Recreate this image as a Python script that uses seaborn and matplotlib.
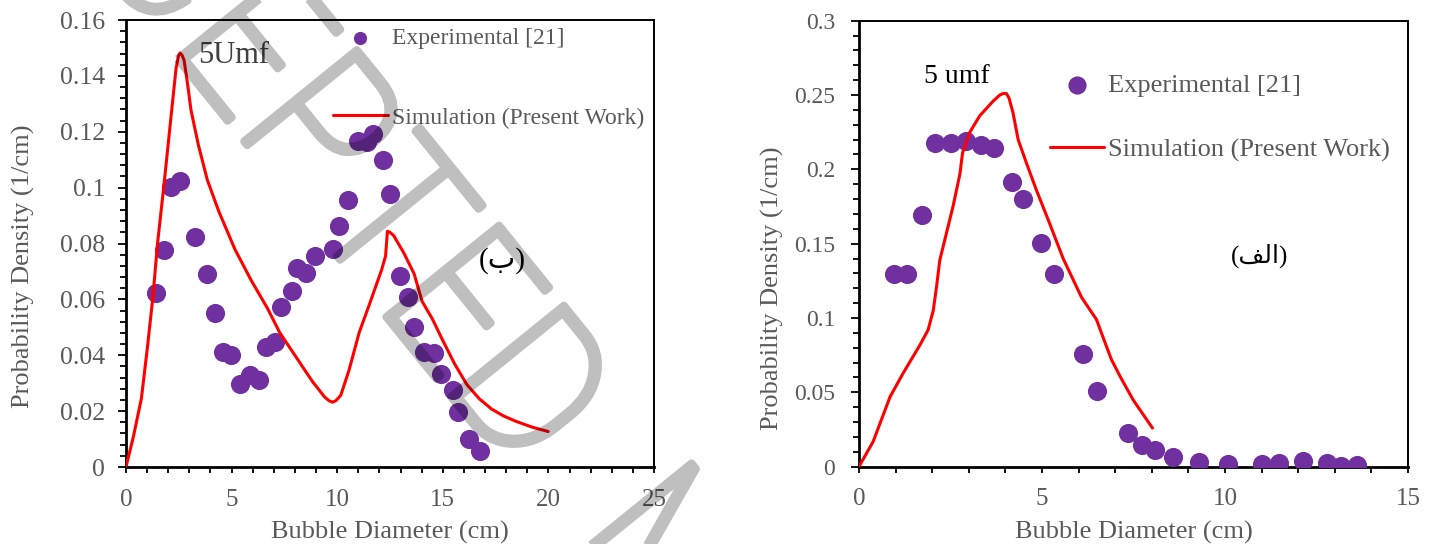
import matplotlib
matplotlib.use("Agg")
import matplotlib.pyplot as plt
import seaborn as sns
import pandas as pd
from matplotlib.ticker import MultipleLocator, FuncFormatter
from matplotlib.textpath import TextPath
from matplotlib.patches import PathPatch
from matplotlib.path import Path
from matplotlib.font_manager import FontProperties
from matplotlib.transforms import Affine2D

# ---- data ----
# left panel (ب)
left_exp_x = [1.41, 1.79, 2.12, 2.56, 3.27, 3.85, 4.20, 4.58, 4.97, 5.39, 5.85, 6.28, 6.61,
              7.05, 7.32, 7.86, 8.11, 8.53, 8.97, 9.82, 10.09, 10.52, 10.98, 11.42, 11.71,
              12.17, 12.52, 12.96, 13.33, 13.64, 14.12, 14.56, 14.91, 15.47, 15.72, 16.26, 16.76]
left_exp_y = [0.0623, 0.0777, 0.1003, 0.1022, 0.0824, 0.0690, 0.0553, 0.0413, 0.0400, 0.0297,
              0.0329, 0.0313, 0.0431, 0.0446, 0.0572, 0.0630, 0.0714, 0.0696, 0.0757, 0.0782,
              0.0861, 0.0954, 0.1167, 0.1165, 0.1192, 0.1100, 0.0976, 0.0684, 0.0610, 0.0501,
              0.0413, 0.0409, 0.0332, 0.0276, 0.0198, 0.0102, 0.0056]
left_sim_x = [0, 0.35, 0.73, 1.02, 1.27, 1.50, 1.79, 2.08, 2.37, 2.48, 2.56, 2.65, 2.75, 2.90,
              3.08, 3.43, 3.85, 4.39, 5.16, 5.93, 6.70, 7.28, 8.05, 8.82, 9.40, 9.62, 9.78,
              9.95, 10.17, 10.55, 11.04, 11.52, 12.10, 12.29, 12.38, 12.50, 12.67, 13.15,
              13.64, 14.02, 14.50, 14.98, 15.56, 16.14, 16.72, 17.30, 17.87, 18.45, 19.22, 19.99]
left_sim_y = [0, 0.0108, 0.0245, 0.0431, 0.0605, 0.0804, 0.1003, 0.1215, 0.1426, 0.1470,
              0.1482, 0.1475, 0.1457, 0.1380, 0.1277, 0.1152, 0.1028, 0.0916, 0.0779, 0.0668,
              0.0568, 0.0481, 0.0394, 0.0307, 0.0251, 0.0237, 0.0232, 0.0238, 0.0257, 0.0344,
              0.0481, 0.0581, 0.0705, 0.0755, 0.0844, 0.0840, 0.0829, 0.0767, 0.0692, 0.0593,
              0.0531, 0.0456, 0.0369, 0.0295, 0.0245, 0.0208, 0.0183, 0.0164, 0.0143, 0.0127]

# right panel (الف)
right_exp_x = [0.96, 1.30, 1.73, 2.09, 2.51, 2.92, 3.34, 3.70, 4.18, 4.49, 4.98, 5.34, 6.13,
               6.50, 7.34, 7.74, 8.10, 8.59, 9.29, 10.09, 11.00, 11.49, 12.13, 12.80, 13.17, 13.60]
right_exp_y = [0.1296, 0.1296, 0.169, 0.218, 0.2175, 0.2193, 0.2164, 0.2142, 0.1917, 0.1798,
               0.1502, 0.1296, 0.0758, 0.0511, 0.0225, 0.0144, 0.0112, 0.0063, 0.0032, 0.0018,
               0.0018, 0.0027, 0.0036, 0.0023, 0.0007, 0.0011]
right_sim_x = [0, 0.39, 0.85, 1.21, 1.67, 1.89, 2.03, 2.12, 2.21, 2.39, 2.57, 2.76, 2.83, 3.03,
               3.30, 3.67, 3.85, 3.94, 4.03, 4.10, 4.21, 4.35, 4.58, 4.85, 5.22, 5.58, 6.08,
               6.49, 6.67, 6.90, 7.13, 7.49, 8.02]
right_sim_y = [0, 0.017, 0.047, 0.063, 0.082, 0.092, 0.105, 0.121, 0.139, 0.157, 0.175, 0.197,
               0.211, 0.225, 0.236, 0.246, 0.250, 0.251, 0.251, 0.248, 0.238, 0.220, 0.204,
               0.186, 0.163, 0.140, 0.114, 0.099, 0.087, 0.072, 0.061, 0.045, 0.026]

EXP_LABEL = "Experimental [21]"
SIM_LABEL = "Simulation (Present Work)"
X_LABEL = "Bubble Diameter (cm)"
Y_LABEL = "Probability Density (1/cm)"

# ---- style ----
sns.set_theme(style="white")
plt.rcParams["font.family"] = ["Liberation Serif", "DejaVu Sans"]

GREY = "#595959"
PURPLE = "#7030A0"
RED = "#FF0000"


def draw_panel(ax, exp_x, exp_y, sim_x, sim_y):
    exp = pd.DataFrame({"d": exp_x, "p": exp_y})
    sim = pd.DataFrame({"d": sim_x, "p": sim_y})
    sns.scatterplot(data=exp, x="d", y="p", ax=ax, color=PURPLE, s=190,
                    linewidth=0, legend=False, zorder=3)
    sns.lineplot(data=sim, x="d", y="p", ax=ax, color=RED, linewidth=2.2,
                 estimator=None, sort=False, legend=False, zorder=4)
    ax.lines[0].set_solid_joinstyle("round")
    return [ax.collections[0], ax.lines[0]]


def style_axis(ax, xmax, ymax, ymajor, yminor, ytick_size, ytick_pad, ylabel_x, ylabel_y):
    ax.set_xlim(0, xmax)
    ax.set_ylim(0, ymax)
    ax.xaxis.set_major_locator(MultipleLocator(5))
    ax.xaxis.set_minor_locator(MultipleLocator(1))
    ax.yaxis.set_major_locator(MultipleLocator(ymajor))
    ax.yaxis.set_minor_locator(MultipleLocator(yminor))
    ax.yaxis.set_major_formatter(FuncFormatter(lambda v, _: f"{round(v, 4):g}"))
    ax.xaxis.set_major_formatter(FuncFormatter(lambda v, _: f"{round(v):d}"))

    ax.tick_params(which="both", direction="out", color="black", width=1.3,
                   bottom=True, left=True, top=False, right=False, labelcolor=GREY)
    ax.tick_params(axis="y", which="major", length=6, labelsize=ytick_size, pad=ytick_pad)
    ax.tick_params(axis="y", which="minor", length=4)
    ax.tick_params(axis="x", which="both", length=4.5)
    ax.tick_params(axis="x", which="major", labelsize=18, pad=11)

    for side, lw in [("left", 2.0), ("bottom", 2.0), ("top", 1.4), ("right", 1.4)]:
        ax.spines[side].set_color("black")
        ax.spines[side].set_linewidth(lw)

    ax.set_xlabel(X_LABEL, fontsize=19, color=GREY)
    ax.set_ylabel(Y_LABEL, fontsize=19, color=GREY)
    ax.xaxis.set_label_coords(0.5, -0.147)
    ax.xaxis.label.set_va("center")
    ax.yaxis.set_label_coords(ylabel_x, ylabel_y)
    ax.yaxis.label.set_va("center")
    ax.grid(False)


fig = plt.figure(figsize=(14.33, 5.44), dpi=100)
ax_l = fig.add_axes([0.0879, 0.1415, 0.3685, 0.8217])
ax_r = fig.add_axes([0.5994, 0.1421, 0.3831, 0.8199])

handles = draw_panel(ax_l, left_exp_x, left_exp_y, left_sim_x, left_sim_y)
style_axis(ax_l, 25, 0.16, 0.02, 0.004, 18.5, 9, -0.195, 0.45)
ax_l.legend(handles, [EXP_LABEL, SIM_LABEL], loc="upper left", bbox_to_anchor=(0.392, 0.983),
            frameon=False, fontsize=17, handlelength=2.33, handletextpad=0.17,
            labelspacing=2.46, borderpad=0, borderaxespad=0, markerscale=0.69,
            labelcolor=GREY)
ax_l.text(0.136, 0.904, "5Umf", transform=ax_l.transAxes, fontsize=22, color="#404040",
          ha="left", va="baseline")
ax_l.text(0.713, 0.463, "(\u0628)", transform=ax_l.transAxes, fontsize=21, color="black",
          ha="center", va="center")

handles = draw_panel(ax_r, right_exp_x, right_exp_y, right_sim_x, right_sim_y)
style_axis(ax_r, 15, 0.3, 0.05, 0.01, 17, 11, -0.158, 0.40)
ax_r.legend(handles, [EXP_LABEL, SIM_LABEL], loc="upper left", bbox_to_anchor=(0.348, 0.882),
            frameon=False, fontsize=19, handlelength=2.05, handletextpad=0.15,
            labelspacing=1.55, borderpad=0, borderaxespad=0, markerscale=0.95,
            labelcolor=GREY)
ax_r.text(0.119, 0.861, "5 umf", transform=ax_r.transAxes, fontsize=20, color="black",
          ha="left", va="baseline")
# visual order of the shaped word الف inside brackets
ax_r.text(0.729, 0.472, "(\ufed2\ufedf\ufe8d)", transform=ax_r.transAxes, fontsize=18,
          color="black", ha="center", va="center")

# ---- grey "ACCEPTED MANUSCRIPT" watermark running diagonally over the left panel ----
# each letter is placed by the offset of its left edge along the slanted baseline (pixels)
W, H = 1433, 544
ANGLE = -51
mark_font = FontProperties(family=["Roboto", "Lato", "Open Sans", "DejaVu Sans"], weight="light")
cap = TextPath((0, 0), "E", size=1, prop=mark_font).get_extents().y1
sy = 145 / cap
sx = 0.9 * sy
start = (248, 146)                      # baseline point (screen pixels, y down)
direction = (0.629, 0.777)
letter_offsets = [("C", -245), ("E", -112), ("P", -6), ("T", 94), ("E", 220), ("D", 323),
                  ("M", 526)]
pieces = []
for ch, off in letter_offsets:
    glyph = TextPath((0, 0), ch, size=1, prop=mark_font)
    x0 = glyph.get_extents().x0
    bx = start[0] + direction[0] * off
    by = H - (start[1] + direction[1] * off)
    tf = Affine2D().translate(-x0, 0).scale(sx, sy).rotate_deg(ANGLE).translate(bx, by)
    pieces.append(glyph.transformed(tf))
mark = Path.make_compound_path(*pieces)
fig.add_artist(PathPatch(mark, transform=Affine2D().scale(1 / W, 1 / H) + fig.transFigure,
                         facecolor="none", edgecolor=(0, 0, 0, 0.25), linewidth=5.8,
                         joinstyle="round", zorder=10))

fig.savefig("out.png", dpi=100)
